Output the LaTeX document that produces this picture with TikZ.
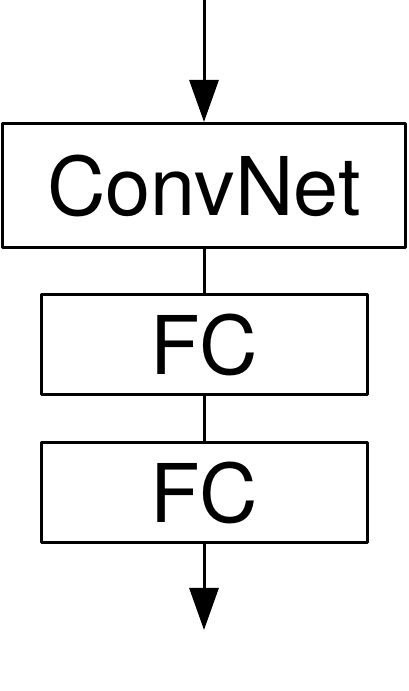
\documentclass[tikz,border=0pt]{standalone}
\usepackage{fontspec}
\setmainfont{TeX Gyre Heros}
\usetikzlibrary{arrows.meta}
\begin{document}
\begin{tikzpicture}[x=1pt, y=1pt, line width=3pt, line join=round, >={Triangle[width=29pt,length=42pt]},
	layer/.style={draw, inner sep=0pt, minimum height=100pt, font=\fontsize{81}{86}\selectfont}]
	\def\xc{204}
	\useasboundingbox (0,0) rectangle (408,691);
	\coordinate (in) at (\xc,691);
	\coordinate (out) at (\xc,61);
	\node[layer, minimum width=403pt, minimum height=124pt] (conv) at (\xc,505.5) {ConvNet};
	\node[layer, minimum width=326pt] (fc1) at (\xc,346.5) {FC};
	\node[layer, minimum width=326pt] (fc2) at (\xc,198) {FC};
	\draw[->] (in)--(conv.north);
	\draw (conv)--(fc1) (fc1)--(fc2);
	\draw[->] (fc2.south)--(out);
\end{tikzpicture}
\end{document}
